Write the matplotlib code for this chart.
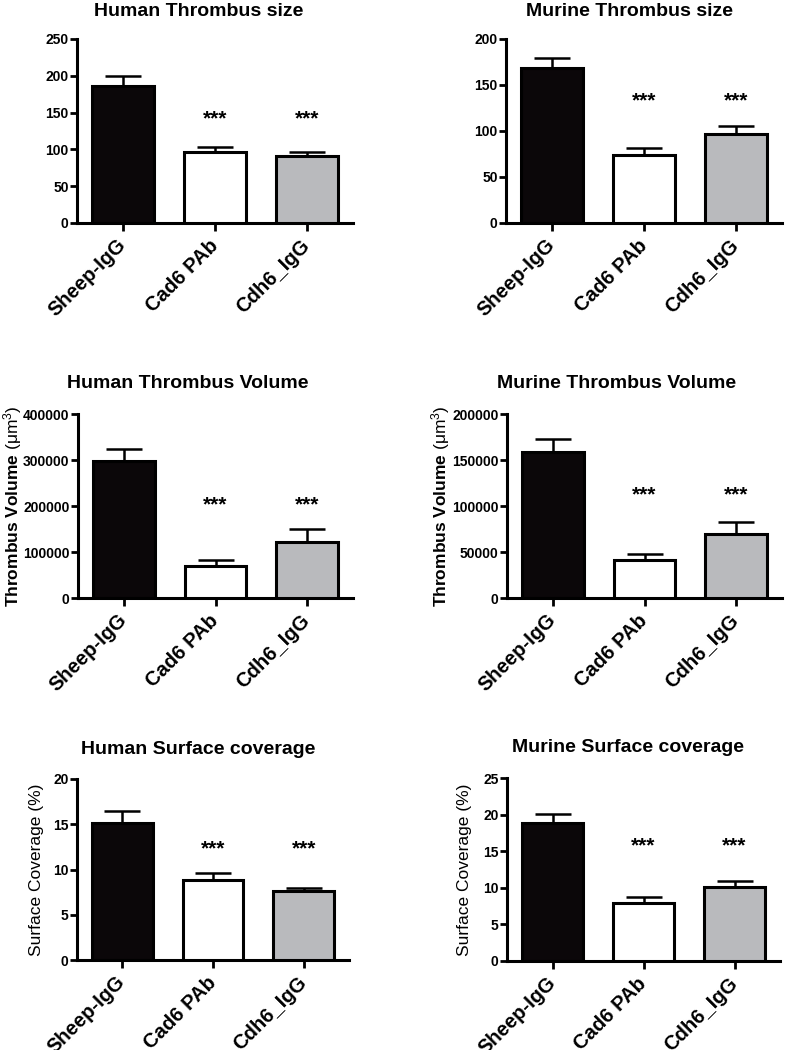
import matplotlib
matplotlib.use("Agg")
import matplotlib.pyplot as plt
import matplotlib.transforms as mtransforms
import numpy as np

plt.rcParams['font.family'] = ['Liberation Sans', 'DejaVu Sans']
plt.rcParams['mathtext.fontset'] = 'custom'
plt.rcParams['mathtext.rm'] = 'Liberation Sans'
plt.rcParams['mathtext.bf'] = 'Liberation Sans:bold'
plt.rcParams['mathtext.it'] = 'Liberation Sans:italic'

categories = ["Sheep-IgG", "Cad6 PAb", "Cdh6_IgG"]
bar_colors = ["#0b0709", "#ffffff", "#b9babd"]

titles = ["Human Thrombus size", "Murine Thrombus size",
          "Human Thrombus Volume", "Murine Thrombus Volume",
          "Human Surface coverage", "Murine Surface coverage"]
vol_label = r"$\mathbf{Thrombus\ Volume}$ (μm$^{3}$)"
ylabels = [None, None, vol_label, vol_label,
           "Surface Coverage (%)", "Surface Coverage (%)"]

human_size_mean = [186, 97, 91]
human_size_sem = [14, 6, 5.5]
murine_size_mean = [168.5, 74, 96.5]
murine_size_sem = [11, 7.5, 8.5]
human_vol_mean = [298000, 70000, 122000]
human_vol_sem = [26000, 12500, 28500]
murine_vol_mean = [158500, 41300, 69500]
murine_vol_sem = [14300, 6500, 13000]
human_cov_mean = [15.1, 8.8, 7.6]
human_cov_sem = [1.4, 0.8, 0.35]
murine_cov_mean = [18.85, 7.9, 10.1]
murine_cov_sem = [1.2, 0.8, 0.8]

means = [human_size_mean, murine_size_mean, human_vol_mean,
         murine_vol_mean, human_cov_mean, murine_cov_mean]
sems = [human_size_sem, murine_size_sem, human_vol_sem,
        murine_vol_sem, human_cov_sem, murine_cov_sem]
ymax = [250, 200, 400000, 200000, 20, 25]
ystep = [50, 50, 100000, 50000, 5, 5]
star_y = [141, 133, 203000, 112000, 12.3, 15.7]

W, H = 785, 1050
fig = plt.figure(figsize=(W / 100, H / 100), dpi=100)

# axes boxes in pixels: left, top, right, bottom
boxes = [(77, 39, 353, 223), (506, 39, 782, 223),
         (78, 414, 353, 598), (507, 414, 782, 598),
         (77, 779, 349, 960), (507, 778, 780, 961)]
title_pos = [(199, 11), (629, 11), (188, 383), (617, 383), (198, 749), (628, 748)]
ylabel_x = [None, None, 13, 441, 37, 465]

lw = 2.2
shift = mtransforms.ScaledTranslation(3 / 100, 0, fig.dpi_scale_trans)
for i in range(6):
    l, t, r, b = boxes[i]
    ax = fig.add_axes([l / W, 1 - b / H, (r - l) / W, (b - t) / H])
    x = np.arange(len(categories))
    ax.bar(x, means[i], width=0.67, color=bar_colors, edgecolor="black",
           linewidth=lw, zorder=3)
    ax.errorbar(x, means[i], yerr=[np.zeros(3), sems[i]], fmt="none",
                ecolor="black", elinewidth=1.8, capsize=13, capthick=1.8,
                zorder=2)
    for j in (1, 2):
        ax.text(j, star_y[i], "***", ha="center", va="center",
                fontsize=15, fontweight="bold")
    ax.set_xlim(-0.5, 2.5)
    ax.set_ylim(0, ymax[i])
    yt = np.arange(0, ymax[i] + ystep[i] / 2, ystep[i])
    ax.set_yticks(yt)
    ax.set_yticklabels([f"{int(v)}" for v in yt], fontsize=10,
                       fontweight="bold")
    ax.set_xticks(x)
    ax.set_xticklabels(categories, rotation=45, ha="right", va="center",
                       rotation_mode="anchor", fontsize=14.5,
                       fontweight="bold")
    for lab in ax.get_xticklabels():
        lab.set_transform(lab.get_transform() + shift)
    ax.tick_params(axis="y", length=5, width=2, pad=1)
    ax.tick_params(axis="x", length=6, width=2, pad=8)
    for s in ("top", "right"):
        ax.spines[s].set_visible(False)
    for s in ("left", "bottom"):
        ax.spines[s].set_linewidth(lw)
    ax.spines["left"].set_bounds(0, ymax[i])
    tx, ty = title_pos[i]
    fig.text(tx / W, 1 - ty / H, titles[i], ha="center", va="center",
             fontsize=14, fontweight="bold")
    if ylabels[i]:
        fig.text(ylabel_x[i] / W, 1 - ((t + b) / 2) / H, ylabels[i],
                 rotation=90, ha="center", va="center", fontsize=12.5)

fig.savefig("out.png", dpi=100)
